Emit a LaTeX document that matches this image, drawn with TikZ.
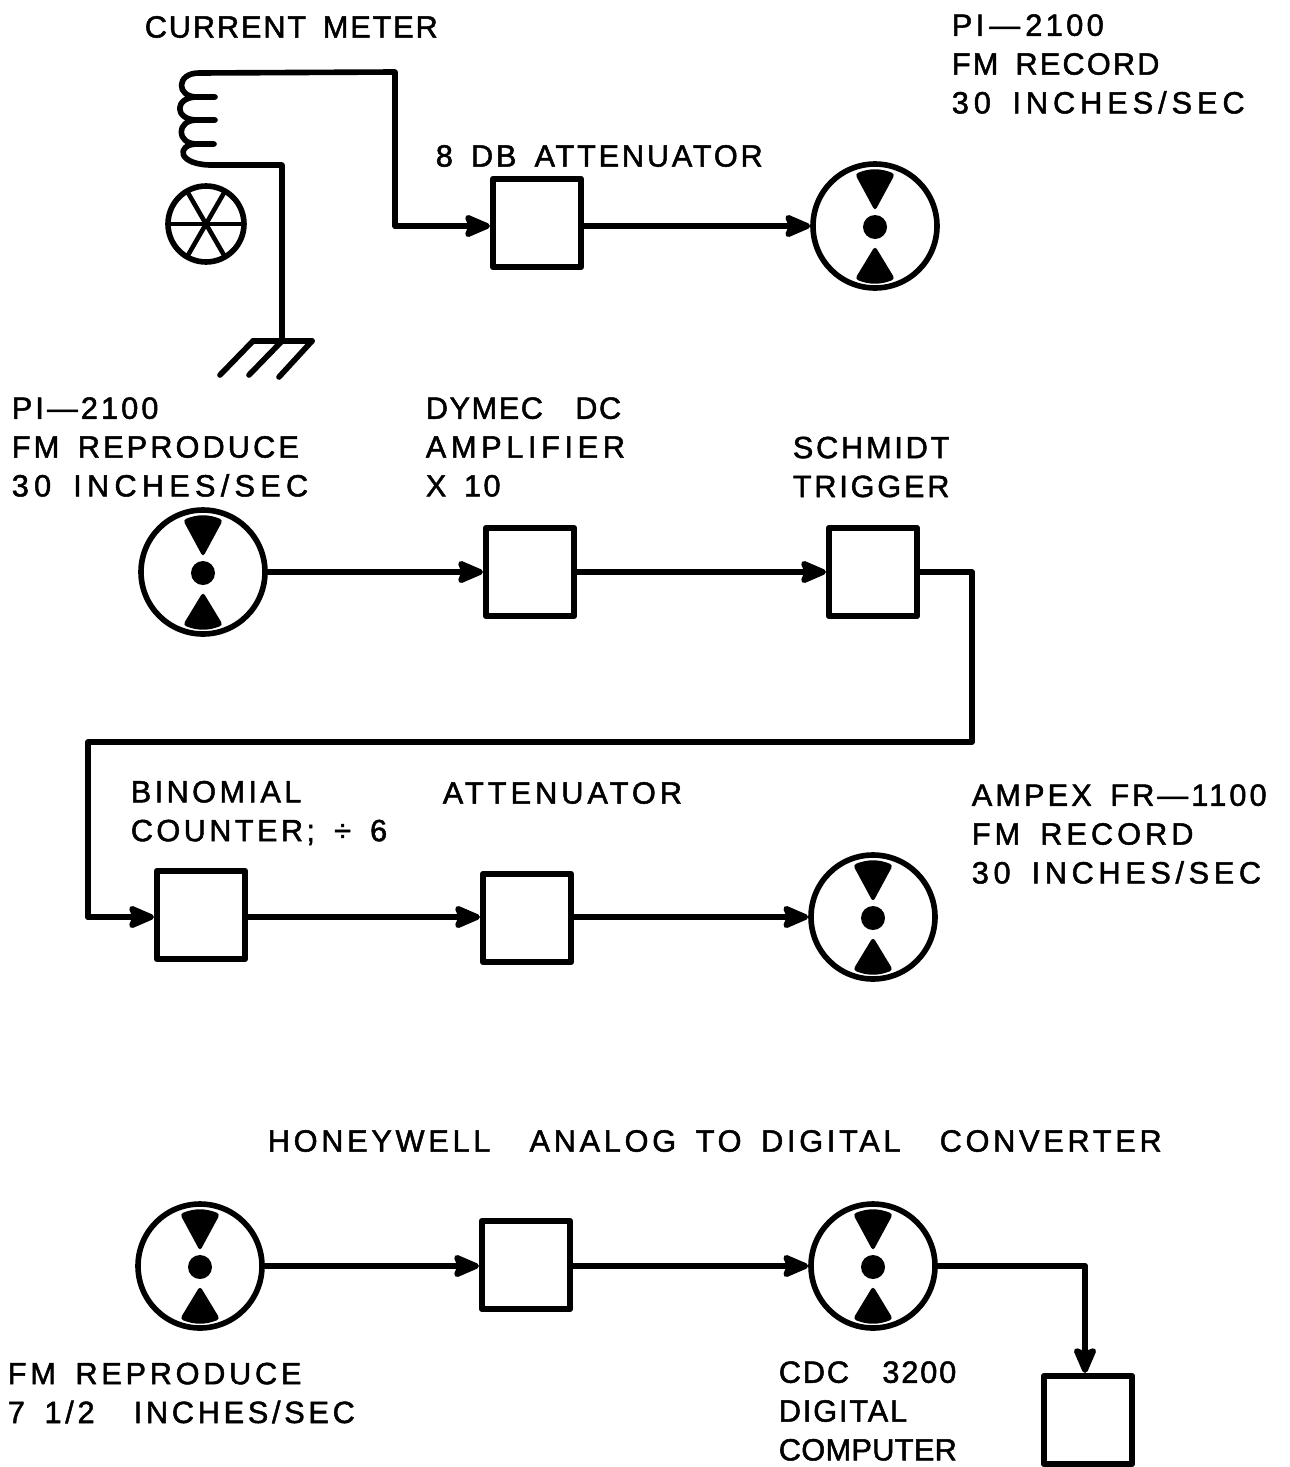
\documentclass[tikz,border=0pt]{standalone}
\usepackage{fontspec}
\setmainfont[LetterSpace=12,WordSpace=1.6,FakeBold=1.6]{Liberation Sans}
\usepackage{tikz}
\usetikzlibrary{arrows.meta, positioning, calc}

\newcommand{\reelmarks}[1]{%
  \fill[rounded corners=2pt] ($(#1)+(0,-15)$) -- ($(#1)+(-20,-52)$)
    to[bend left=22] ($(#1)+(20,-52)$) -- cycle;
  \fill[rounded corners=2pt] ($(#1)+(0,20)$) -- ($(#1)+(-20,53)$)
    to[bend right=22] ($(#1)+(20,53)$) -- cycle;
  \fill ($(#1)+(0,1)$) circle[radius=12];
}
%% tracking of one lettered line
\newcommand{\ls}[2]{{\addfontfeature{LetterSpace=#1}#2}}

\begin{document}
\begin{tikzpicture}[
    x=0.02cm, y=-0.02cm,
    line width=3.2pt, line join=round, line cap=round,
    >={Stealth[length=0.62cm, width=0.52cm, inset=0.1cm, round]},
    unitbox/.style={draw, minimum size=1.77cm, inner sep=0pt},
    reel/.style={draw, circle, minimum size=2.48cm, inner sep=0pt},
    lettering/.style={anchor=west, align=left, inner sep=0pt,
        font=\fontsize{17.5}{22.1}\selectfont},
    wire/.style={->},
]
\useasboundingbox (0,0) rectangle (1290,1467);

%% ========== FIRST ROW ==========
\node[draw, circle, minimum size=1.52cm, inner sep=0pt] (meter) at (206,224) {};
\foreach \ang in {0,60,120} {
    \draw[line width=2.6pt] ($(meter)+(\ang:38)$) -- ($(meter)+(\ang+180:38)$);
}
\coordinate (coiltop) at (199,73);
\coordinate (coilA) at (197,97);
\coordinate (coilB) at (197,120);
\coordinate (coilC) at (197,144);
\coordinate (coilbot) at (215,165);
\coordinate (bendA) at (395,72);
\coordinate (bendB) at (395,226);
\coordinate (bendC) at (282,165);
\coordinate (gndjoin) at (282,341);
\coordinate (gndleft) at (253,341);
\coordinate (gndright) at (312,341);

\node[unitbox] (atten8) at (537,223) {};
\node[reel] (recA) at (875,226) {};
\reelmarks{recA}

\draw (coiltop) .. controls (176,73) and (176,97) .. (coilA) -- (215,97);
\draw (coilA) .. controls (174,97) and (174,120) .. (coilB) -- (215,120);
\draw (coilB) .. controls (176,120) and (176,144) .. (coilC) -- (214,144);
\draw (coilC) .. controls (176,144) and (176,166) .. (coilbot) -- (bendC) -- (gndjoin);
\draw (coiltop) -- (bendA) -- (bendB);
\draw[wire] (bendB) -- (bendB -| atten8.west);
\draw[wire] (atten8.east |- recA) -- (recA.west);

%% ground
\draw (gndleft) -- (gndright);
\draw (gndleft) -- ++(-33,34);
\draw (gndjoin) -- ++(-33,34);
\draw (gndright) -- ++(-33,36);

\node[lettering] (lblmeter) at (142,27) {\ls{6}{CURRENT METER}};
\node[lettering] (lblrec) at (949,64) {\ls{11}{PI\,—\,2100}\\\ls{7}{FM RECORD}\\\ls{16}{30 INCHES/SEC}};
\node[lettering] (lblatten) at (433,156) {\ls{9}{8 DB ATTENUATOR}};

%% ========== SECOND ROW ==========
\node[reel] (repA) at (203,572) {};
\reelmarks{repA}
\node[unitbox] (dymec) at (530,572) {};
\node[unitbox] (schmidt) at (873,572) {};
\draw[wire] (repA.east) -- (dymec.west);
\draw[wire] (dymec.east) -- (schmidt.west);

\node[lettering] (lblrep) at (9,447) {\ls{10}{PI—2100}\\\ls{10}{FM REPRODUCE}\\\ls{17}{30 INCHES/SEC}};
\node[lettering] (lbldymec) at (423,447) {\ls{5}{DYMEC\ \ DC}\\\ls{15}{AMPLIFIER}\\\ls{8}{X 10}};
\node[lettering] (lblschmidt) at (790,467) {\ls{9}{SCHMIDT}\\\ls{9}{TRIGGER}};

%% ========== THIRD ROW ==========
\coordinate (turnA) at (972,572);
\coordinate (turnB) at (972,742);
\coordinate (turnC) at (88,742);
\coordinate (turnD) at (88,917);

\node[unitbox] (binom) at (201,915) {};
\node[unitbox] (atten) at (527,918) {};
\node[reel] (recB) at (873,917) {};
\reelmarks{recB}

\draw (schmidt.east) -- (turnA) -- (turnB) -- (turnC) -- (turnD);
\draw[wire] (turnD) -- (turnD -| binom.west);
\draw[wire] (binom.east |- turnD) -- (turnD -| atten.west);
\draw[wire] (atten.east |- turnD) -- (recB.west);

\node[lettering] (lblbinom) at (128,813) {\ls{11}{BINOMIAL}\\\ls{11}{COUNTER; ÷ 6}};
\node[lettering] (lblatt) at (440,793) {\ls{13}{ATTENUATOR}};
\node[lettering] (lblampex) at (969,834) {\ls{10}{AMPEX FR—1100}\\\ls{13}{FM RECORD}\\\ls{15}{30 INCHES/SEC}};

%% ========== FOURTH ROW ==========
\node[reel] (repB) at (200,1266) {};
\reelmarks{repB}
\node[unitbox] (adc) at (526,1265) {};
\node[reel] (digi) at (873,1266) {};
\reelmarks{digi}
\node[unitbox] (cdc) at (1088,1420) {};
\coordinate (turnE) at (1085,1266);

\draw[wire] (repB.east) -- (repB.east -| adc.west);
\draw[wire] (adc.east |- digi) -- (digi.west);
\draw (digi.east) -- (turnE);
\draw[wire] (turnE) -- (turnE |- cdc.north);

\node[lettering] (lblhoney) at (265,1141) {HONEYWELL\ \ ANALOG TO DIGITAL\ \ CONVERTER};
\node[lettering] (lblfm) at (5,1393) {FM REPRODUCE\\7 1/2\ \ INCHES/SEC};
\node[lettering] (lblcdc) at (776,1411) {\ls{6}{CDC\ \ 3200}\\\ls{6}{DIGITAL}\\\ls{1}{COMPUTER}};
\end{tikzpicture}
\end{document}
